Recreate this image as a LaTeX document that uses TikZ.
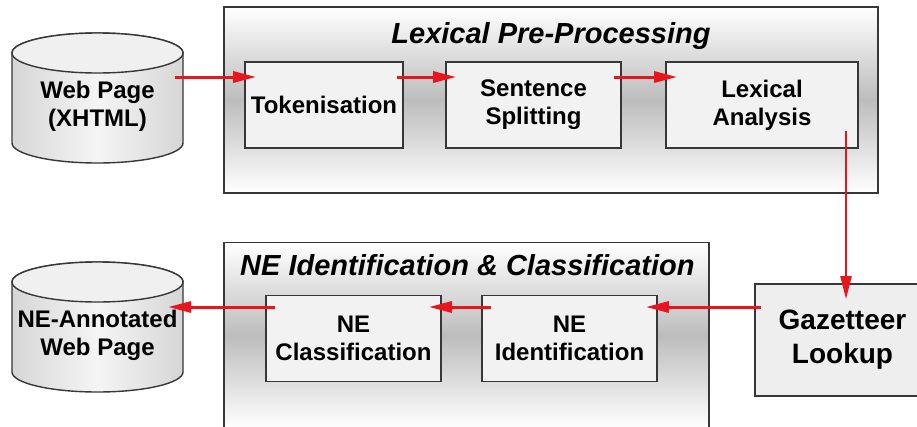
\documentclass[tikz,border=0pt]{standalone}
\usepackage{fontspec}
\setmainfont{Liberation Sans}
\usetikzlibrary{arrows.meta,positioning}
\definecolor{flowred}{RGB}{232,22,28}
\definecolor{rim}{RGB}{55,55,55}
\begin{document}
\begin{tikzpicture}[x=1pt,y=-1pt,
    stage/.style={draw=rim,line width=1.4pt,top color=white,bottom color=white,middle color=gray!52,
      minimum width=#1,minimum height=186pt,inner sep=0pt},
    task/.style={draw=rim,line width=1.8pt,fill=gray!10,minimum width=#1,minimum height=86pt,
      align=center,font=\fontsize{24}{28}\selectfont\bfseries},
    stagetitle/.style={font=\fontsize{29}{34}\selectfont\bfseries\itshape,inner sep=0pt},
    drumtext/.style={minimum width=171pt,inner sep=0pt,align=center,font=\fontsize{24}{28}\selectfont\bfseries},
    drum/.style={draw=rim,line width=1.4pt,left color=gray!32,right color=gray!32,middle color=gray!8},
    flow/.style={draw=flowred,line width=3pt,-{Triangle[length=23pt,width=11pt]}}]
    \useasboundingbox (0,0) rectangle (917,426);
    \clip (0,0) rectangle (917,426);
    \fill[white] (0,0) rectangle (917,426);

    % the two stages
    \node[stage=654pt] (pre) at (551,100) {};
    \node[stagetitle,anchor=base] at (551,43) {Lexical Pre-Processing};
    \node[stage=485pt] (neic) at (466.5,335.5) {};
    \node[stagetitle,anchor=base west] at (240,275) {NE Identification \& Classification};

    \node[task=158pt] (tok) at (324,105) {Tokenisation};
    \node[task=175pt] (split) at (533.5,105) {Sentence\\Splitting};
    \node[task=192pt] (lex) at (762,105) {Lexical\\Analysis};
    \node[task=175pt] (classif) at (353.5,338.5) {NE\\Classification};
    \node[task=175pt] (ident) at (569.5,338.5) {NE\\Identification};
    \node[task=175pt,minimum height=112pt,fill=gray!13,font=\fontsize{28}{34}\selectfont\bfseries] (gaz) at (842.5,340) {Gazetteer\\Lookup};

    % web pages
    \foreach \t in {33,262} {
      \draw[drum] (12,\t+20) -- (12,\t+110) arc[start angle=180,end angle=360,x radius=85.5pt,y radius=20pt]
        -- (183,\t+20) arc[start angle=0,end angle=180,x radius=85.5pt,y radius=20pt] -- cycle;
      \draw[draw=rim,line width=1.4pt,fill=gray!12] (97.5,\t+20) ellipse[x radius=85.5pt,y radius=20pt];
    }
    \node[drumtext] (web) at (97.5,106) {Web Page\\(XHTML)};
    \node[drumtext] (annot) at (97.5,335) {NE-Annotated\\Web Page};

    \coordinate (row1) at (0,77);
    \coordinate (row2) at (0,307);
    \coordinate (col) at (846,0);
    \draw[flow,shorten <=-8pt,shorten >=-12pt] (web.east |- row1) -- (tok.west |- row1);
    \draw[flow,shorten <=-7pt,shorten >=-11pt] (tok.east |- row1) -- (split.west |- row1);
    \draw[flow,shorten <=-8pt,shorten >=-12pt] (split.east |- row1) -- (lex.west |- row1);
    \draw[flow,line width=2.2pt,shorten <=-18pt,shorten >=-16pt] (lex.south -| col) -- (gaz.north -| col);
    \draw[flow,shorten <=-7pt,shorten >=-12pt] (gaz.west |- row2) -- (ident.east |- row2);
    \draw[flow,shorten <=-10pt,shorten >=-13pt] (ident.west |- row2) -- (classif.east |- row2);
    \draw[flow,shorten <=-10pt,shorten >=-15pt] (classif.west |- row2) -- (annot.east |- row2);
\end{tikzpicture}
\end{document}
